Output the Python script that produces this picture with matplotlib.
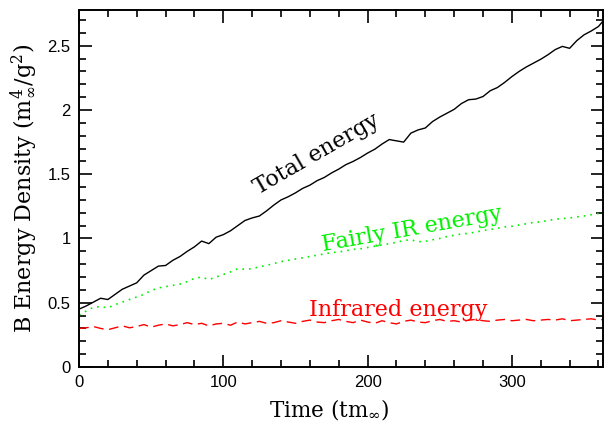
import matplotlib
matplotlib.use("Agg")
import matplotlib.pyplot as plt
from matplotlib.ticker import MultipleLocator

time = [0, 5, 10, 15, 20, 25, 30, 35, 40, 45, 50, 55, 60, 65, 70, 75, 80, 85, 90, 95,
        100, 105, 110, 115, 120, 125, 130, 135, 140, 145, 150, 155, 160, 165, 170, 175,
        180, 185, 190, 195, 200, 205, 210, 215, 220, 225, 230, 235, 240, 245, 250, 255,
        260, 265, 270, 275, 280, 285, 290, 295, 300, 305, 310, 315, 320, 325, 330, 335,
        340, 345, 350, 355, 360, 363]

total_energy = [0.450, 0.475, 0.505, 0.535, 0.525, 0.565, 0.605, 0.630, 0.655, 0.715,
                0.750, 0.785, 0.790, 0.830, 0.860, 0.900, 0.935, 0.980, 0.960, 1.010,
                1.030, 1.060, 1.100, 1.140, 1.160, 1.175, 1.215, 1.260, 1.300, 1.325,
                1.355, 1.390, 1.415, 1.450, 1.475, 1.510, 1.540, 1.575, 1.600, 1.630,
                1.665, 1.695, 1.735, 1.770, 1.760, 1.750, 1.820, 1.845, 1.860, 1.910,
                1.945, 1.975, 2.005, 2.050, 2.080, 2.085, 2.105, 2.150, 2.175, 2.215,
                2.260, 2.300, 2.335, 2.365, 2.395, 2.430, 2.470, 2.495, 2.480, 2.540,
                2.585, 2.615, 2.650, 2.690]

fairly_ir = [0.405, 0.435, 0.465, 0.470, 0.460, 0.485, 0.505, 0.525, 0.545, 0.565,
             0.595, 0.615, 0.625, 0.635, 0.645, 0.665, 0.690, 0.700, 0.680, 0.700,
             0.720, 0.740, 0.765, 0.760, 0.765, 0.780, 0.790, 0.805, 0.820, 0.830,
             0.840, 0.850, 0.860, 0.870, 0.880, 0.890, 0.895, 0.905, 0.915, 0.920,
             0.930, 0.940, 0.950, 0.960, 0.970, 0.985, 0.990, 0.975, 0.978, 0.990,
             1.000, 1.015, 1.025, 1.035, 1.040, 1.050, 1.062, 1.070, 1.080, 1.090,
             1.095, 1.105, 1.115, 1.125, 1.130, 1.140, 1.150, 1.155, 1.160, 1.168,
             1.175, 1.185, 1.195, 1.200]

infrared = [0.300, 0.305, 0.315, 0.300, 0.290, 0.305, 0.320, 0.305, 0.315, 0.330,
            0.310, 0.325, 0.335, 0.320, 0.330, 0.345, 0.330, 0.340, 0.320, 0.335,
            0.340, 0.325, 0.350, 0.335, 0.345, 0.355, 0.340, 0.345, 0.360, 0.350,
            0.340, 0.355, 0.365, 0.350, 0.345, 0.360, 0.370, 0.355, 0.345, 0.365,
            0.350, 0.340, 0.360, 0.345, 0.335, 0.355, 0.365, 0.350, 0.345, 0.360,
            0.370, 0.355, 0.360, 0.350, 0.365, 0.370, 0.360, 0.355, 0.365, 0.370,
            0.360, 0.365, 0.370, 0.360, 0.365, 0.370, 0.365, 0.375, 0.360, 0.365,
            0.370, 0.375, 0.365, 0.370]

ytick_vals = [0, 0.5, 1, 1.5, 2, 2.5]
ytick_labels = ['0', '0.5', '1', '1.5', '2', '2.5']

GREEN = '#00f000'
RED = '#ff0000'

plt.rcParams['font.family'] = ['Liberation Sans', 'DejaVu Sans']
plt.rcParams['mathtext.fontset'] = 'dejavuserif'

fig = plt.figure(figsize=(6.04, 4.25), dpi=100)
ax = fig.add_axes([0.1308, 0.1365, 0.8672, 0.8405])

ax.plot(time, total_energy, color='black', lw=1.0, ls='-')
ax.plot(time, fairly_ir, color=GREEN, lw=1.2, ls=(0, (1, 3)))
ax.plot(time, infrared, color=RED, lw=1.0, ls=(0, (7, 4)))

ax.set_xlim(0, 363)
ax.set_ylim(0, 2.78)

ax.xaxis.set_major_locator(MultipleLocator(100))
ax.xaxis.set_minor_locator(MultipleLocator(20))
ax.yaxis.set_minor_locator(MultipleLocator(0.1))
ax.set_yticks(ytick_vals)
ax.set_yticklabels(ytick_labels)

ax.tick_params(which='both', direction='in', top=True, right=True, width=1.2)
ax.tick_params(which='major', length=9)
ax.tick_params(which='minor', length=5)
ax.tick_params(axis='both', labelsize=12, pad=6)
for s in ax.spines.values():
    s.set_linewidth(1.4)

ax.set_xlabel(r'Time (tm$_\infty$)', family='DejaVu Serif', fontsize=15.5, labelpad=5)
ax.xaxis.set_label_coords(0.477, -0.085)
ax.set_ylabel(r'B Energy Density (m$^4_\infty$/g$^2$)', family='DejaVu Serif', fontsize=16, labelpad=6)

ax.text(165, 1.66, 'Total energy', family='DejaVu Serif', fontsize=16,
        rotation=30, ha='center', va='center', color='black')
ax.text(231, 1.07, 'Fairly IR energy', family='DejaVu Serif', fontsize=16,
        rotation=10, ha='center', va='center', color=GREEN)
ax.text(221, 0.445, 'Infrared energy', family='DejaVu Serif', fontsize=16,
        rotation=0, ha='center', va='center', color=RED)

fig.savefig('out.png', dpi=100)
